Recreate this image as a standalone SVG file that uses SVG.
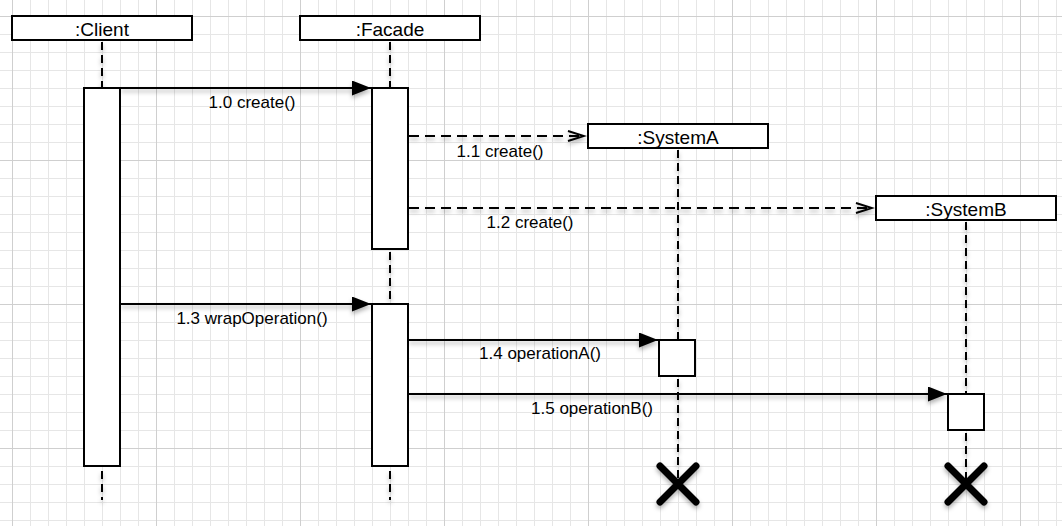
<svg xmlns="http://www.w3.org/2000/svg" width="1062" height="526" viewBox="0 0 1062 526">
  <style>
    .box { fill: #ffffff; stroke: #000000; stroke-width: 2; }
    .title { font-family: "Liberation Sans", Arial, sans-serif; font-size: 19px; fill: #000; text-anchor: middle; }
    .label { font-family: "Liberation Sans", Arial, sans-serif; font-size: 17px; fill: #000; text-anchor: middle; }
    .life { stroke: #000; stroke-width: 2; stroke-dasharray: 8 5; fill: none; }
    .msg { stroke: #000; stroke-width: 2; fill: none; }
    .ret { stroke: #000; stroke-width: 2; stroke-dasharray: 10 6; fill: none; }
    .xmark { stroke: #000; stroke-width: 7; stroke-linecap: round; fill: none; }
  </style>
  <defs>
    <pattern id="grid" x="12" y="16" width="144" height="144" patternUnits="userSpaceOnUse">
      <path d="M18.5 0V144M36.5 0V144M54.5 0V144M72.5 0V144M90.5 0V144M108.5 0V144M126.5 0V144M0 18.5H144M0 36.5H144M0 54.5H144M0 72.5H144M0 90.5H144M0 108.5H144M0 126.5H144" stroke="#e6e6e6" stroke-width="1" fill="none"/>
      <path d="M0.5 0V144M0 0.5H144" stroke="#cfcfcf" stroke-width="1" fill="none"/>
    </pattern>
    <filter id="sh" filterUnits="userSpaceOnUse" x="0" y="0" width="1062" height="526">
      <feDropShadow dx="0" dy="3" stdDeviation="2" flood-color="#000" flood-opacity="0.3"/>
    </filter>
    <marker id="filled" markerWidth="20" markerHeight="16" refX="19" refY="7.5" orient="auto" markerUnits="userSpaceOnUse">
      <path d="M0,0 L19,7.5 L0,15 Z" fill="#000"/>
    </marker>
    <marker id="open" markerWidth="20" markerHeight="14" refX="18" refY="6" orient="auto" markerUnits="userSpaceOnUse">
      <path d="M1,1 L17,6 L1,11" fill="none" stroke="#000" stroke-width="2"/>
    </marker>
  </defs>

  <rect x="0" y="0" width="1062" height="526" fill="#ffffff"/>
  <rect x="0" y="0" width="1062" height="526" fill="url(#grid)"/>

  <g id="client">
    <g filter="url(#sh)">
      <line class="life" x1="102" y1="42" x2="102" y2="88"/>
      <line class="life" x1="102" y1="471" x2="102" y2="500"/>
    </g>
    <rect class="box" x="12" y="16" width="180" height="24"/>
    <text class="title" x="102" y="35.5">:Client</text>
    <rect class="box" x="84" y="88" width="36" height="378"/>
  </g>

  <g id="facade">
    <g filter="url(#sh)">
      <line class="life" x1="390" y1="42" x2="390" y2="88"/>
      <line class="life" x1="390" y1="252" x2="390" y2="304"/>
      <line class="life" x1="390" y1="471" x2="390" y2="500"/>
    </g>
    <rect class="box" x="300" y="16" width="180" height="24"/>
    <text class="title" x="390" y="35.5">:Facade</text>
    <rect class="box" x="372" y="88" width="36" height="161"/>
    <rect class="box" x="372" y="304" width="36" height="162"/>
  </g>

  <g id="systemA">
    <g filter="url(#sh)">
      <line class="life" x1="678" y1="150" x2="678" y2="340"/>
      <line class="life" x1="678" y1="379" x2="678" y2="482"/>
      <path class="xmark" d="M660,466 L696,502 M696,466 L660,502"/>
    </g>
    <rect class="box" x="588" y="124" width="180" height="24"/>
    <text class="title" x="678" y="144">:SystemA</text>
    <rect class="box" x="659" y="340" width="36" height="36"/>
  </g>

  <g id="systemB">
    <g filter="url(#sh)">
      <line class="life" x1="966" y1="222" x2="966" y2="394"/>
      <line class="life" x1="966" y1="433" x2="966" y2="482"/>
      <path class="xmark" d="M948,466 L984,502 M984,466 L948,502"/>
    </g>
    <rect class="box" x="876" y="196" width="180" height="24"/>
    <text class="title" x="966" y="216">:SystemB</text>
    <rect class="box" x="948" y="394" width="36" height="36"/>
  </g>

  <g id="connectors">
    <g filter="url(#sh)">
      <line class="msg" x1="121" y1="88" x2="371" y2="88" marker-end="url(#filled)"/>
      <line class="ret" x1="409" y1="136" x2="585" y2="136" marker-end="url(#open)"/>
      <line class="ret" x1="409" y1="208" x2="873" y2="208" marker-end="url(#open)"/>
      <line class="msg" x1="121" y1="304" x2="371" y2="304" marker-end="url(#filled)"/>
      <line class="msg" x1="409" y1="340" x2="658" y2="340" marker-end="url(#filled)"/>
      <line class="msg" x1="409" y1="394" x2="947" y2="394" marker-end="url(#filled)"/>
    </g>
    <text class="label" x="252" y="108">1.0 create()</text>
    <text class="label" x="500" y="157">1.1 create()</text>
    <text class="label" x="530" y="228">1.2 create()</text>
    <text class="label" x="252" y="324">1.3 wrapOperation()</text>
    <text class="label" x="540" y="359">1.4 operationA()</text>
    <text class="label" x="592" y="414">1.5 operationB()</text>
  </g>
</svg>
